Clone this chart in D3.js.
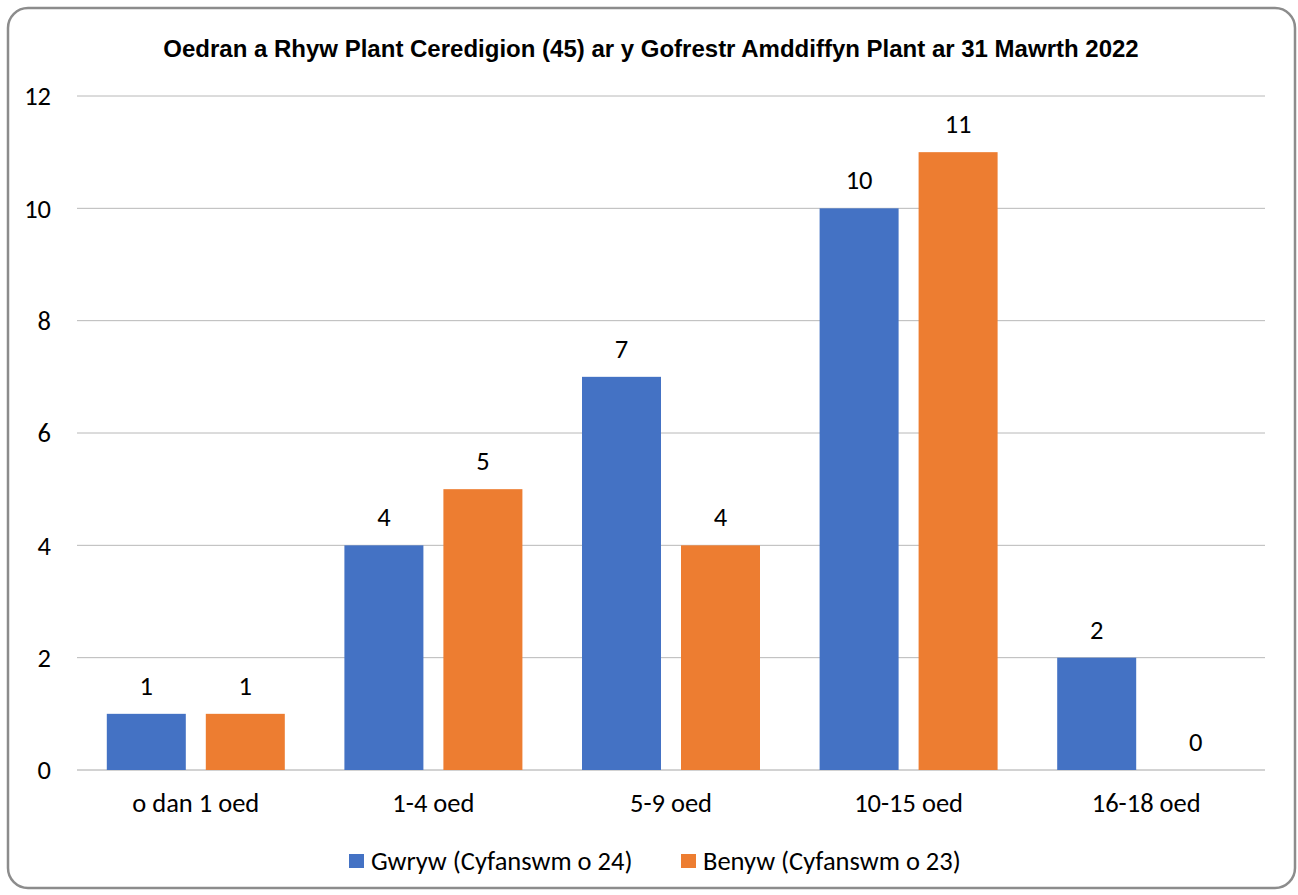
<!DOCTYPE html>
<html>
<head>
<meta charset="utf-8">
<script src="https://cdn.jsdelivr.net/npm/d3@7"></script>
<style>
  body { margin: 0; background: #fff; }
  svg text { fill: #000; }
</style>
</head>
<body>
<svg id="chart" width="1298" height="895"></svg>
<script>
const categories = ["o dan 1 oed", "1-4 oed", "5-9 oed", "10-15 oed", "16-18 oed"];
const seriesNames = ["Gwryw (Cyfanswm o 24)", "Benyw (Cyfanswm o 23)"];
const gwryw = [1, 4, 7, 10, 2];
const benyw = [1, 5, 4, 11, 0];
const yTicks = [0, 2, 4, 6, 8, 10, 12];
const colors = ["#4472C4", "#ED7D31"];

const svg = d3.select("#chart");
const bodyFont = "Carlito, Calibri, 'Noto Sans', sans-serif";
const bodySize = "26.5px";

// outer frame
svg.append("rect")
    .attr("x", 8).attr("y", 8)
    .attr("width", 1287).attr("height", 880)
    .attr("rx", 20).attr("ry", 20)
    .attr("fill", "#fff")
    .attr("stroke", "#8c8c8c")
    .attr("stroke-width", 2.5);

svg.append("text")
    .attr("x", 651).attr("y", 57)
    .attr("text-anchor", "middle")
    .style("font-family", "'Liberation Sans', Arial, sans-serif")
    .style("font-weight", "bold")
    .style("font-size", "24px")
    .text("Oedran a Rhyw Plant Ceredigion (45) ar y Gofrestr Amddiffyn Plant ar 31 Mawrth 2022");

const x = d3.scaleBand().domain(categories).range([77, 1265]);
const xInner = d3.scaleBand().domain([0, 1]).range([0, x.bandwidth()])
    .paddingInner(0.202).paddingOuter(0.301);
const y = d3.scaleLinear().domain([0, 12]).range([770, 96]);

// gridlines
svg.append("g").selectAll("line")
    .data(yTicks)
    .join("line")
    .attr("x1", 77).attr("x2", 1265)
    .attr("y1", d => y(d)).attr("y2", d => y(d))
    .attr("stroke", d => d === 0 ? "#a6a6a6" : "#b8b8b8")
    .attr("stroke-width", 1);

svg.append("g").selectAll("text")
    .data(yTicks)
    .join("text")
    .attr("x", 51)
    .attr("y", d => y(d))
    .attr("dy", "0.35em")
    .attr("text-anchor", "end")
    .style("font-family", bodyFont)
    .style("font-size", bodySize)
    .text(d => d);

const rows = categories.map((c, i) => ({cat: c, vals: [gwryw[i], benyw[i]]}));

const groups = svg.append("g").selectAll("g")
    .data(rows)
    .join("g")
    .attr("transform", d => `translate(${x(d.cat)},0)`);

groups.selectAll("rect")
    .data(d => d.vals.map((v, k) => ({k, v})))
    .join("rect")
    .attr("x", d => xInner(d.k))
    .attr("width", xInner.bandwidth())
    .attr("y", d => y(d.v))
    .attr("height", d => y(0) - y(d.v))
    .attr("fill", d => colors[d.k]);

groups.selectAll("text.val")
    .data(d => d.vals.map((v, k) => ({k, v})))
    .join("text")
    .attr("class", "val")
    .attr("x", d => xInner(d.k) + xInner.bandwidth() / 2)
    .attr("y", d => y(d.v) - 19)
    .attr("text-anchor", "middle")
    .style("font-family", bodyFont)
    .style("font-size", bodySize)
    .text(d => d.v);

// category labels
svg.append("g").selectAll("text")
    .data(categories)
    .join("text")
    .attr("x", d => x(d) + x.bandwidth() / 2)
    .attr("y", 812)
    .attr("text-anchor", "middle")
    .style("font-family", bodyFont)
    .style("font-size", bodySize)
    .text(d => d);

// legend
const legendX = [349, 681];
const legend = svg.append("g").selectAll("g")
    .data(seriesNames)
    .join("g")
    .attr("transform", (d, i) => `translate(${legendX[i]},861)`);
legend.append("rect")
    .attr("x", 0).attr("y", -7)
    .attr("width", 15).attr("height", 14)
    .attr("fill", (d, i) => colors[i]);
legend.append("text")
    .attr("x", 22).attr("y", 0)
    .attr("dy", "0.35em")
    .style("font-family", bodyFont)
    .style("font-size", bodySize)
    .text(d => d);
</script>
</body>
</html>
